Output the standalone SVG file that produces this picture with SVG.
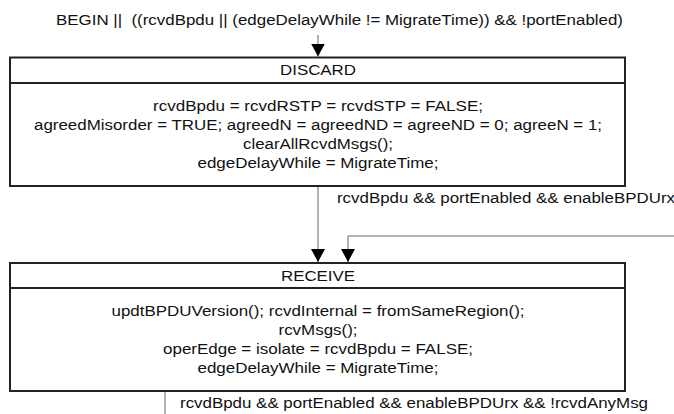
<svg xmlns="http://www.w3.org/2000/svg" width="674" height="414" viewBox="0 0 674 414">
<style>
text{font-family:"Liberation Sans",Arial,sans-serif;font-size:14px;fill:#111}
.c{text-anchor:middle}
.box{fill:#fff;stroke:#222;stroke-width:2}
.conn{fill:none;stroke:#666;stroke-width:1}
</style>
<defs>
<marker id="ah" markerWidth="13" markerHeight="14" refX="13" refY="7" orient="auto" markerUnits="userSpaceOnUse">
<path d="M0,0 L13,7 L0,14 Z" fill="#000"/>
</marker>
</defs>
<rect width="674" height="414" fill="#fff"/>
<g id="connectors">
<line class="conn" x1="318" y1="35" x2="318" y2="56.5" marker-end="url(#ah)"/>
<line class="conn" x1="318" y1="187" x2="318" y2="262" marker-end="url(#ah)"/>
<polyline class="conn" points="674,236 348,236 348,262" marker-end="url(#ah)"/>
<line class="conn" x1="165" y1="392" x2="165" y2="414"/>
<text x="56" y="25" textLength="567" lengthAdjust="spacingAndGlyphs" xml:space="preserve">BEGIN ||  ((rcvdBpdu || (edgeDelayWhile != MigrateTime)) &amp;&amp; !portEnabled)</text>
<text x="337" y="203" textLength="338" lengthAdjust="spacingAndGlyphs">rcvdBpdu &amp;&amp; portEnabled &amp;&amp; enableBPDUrx</text>
<text x="180" y="408" textLength="468" lengthAdjust="spacingAndGlyphs">rcvdBpdu &amp;&amp; portEnabled &amp;&amp; enableBPDUrx &amp;&amp; !rcvdAnyMsg</text>
</g>
<g id="discard">
<rect class="box" x="10" y="57.5" width="615" height="128.5"/>
<line class="box" x1="10" y1="83" x2="625" y2="83"/>
<text x="318" y="75" class="c" textLength="76" lengthAdjust="spacingAndGlyphs">DISCARD</text>
<text x="318" y="111" class="c" textLength="330" lengthAdjust="spacingAndGlyphs">rcvdBpdu = rcvdRSTP = rcvdSTP = FALSE;</text>
<text x="318" y="130" class="c" textLength="568" lengthAdjust="spacingAndGlyphs">agreedMisorder = TRUE; agreedN = agreedND = agreeND = 0; agreeN = 1;</text>
<text x="318" y="149" class="c" textLength="150" lengthAdjust="spacingAndGlyphs">clearAllRcvdMsgs();</text>
<text x="318" y="168" class="c" textLength="241" lengthAdjust="spacingAndGlyphs">edgeDelayWhile = MigrateTime;</text>
</g>
<g id="receive">
<rect class="box" x="10" y="263" width="615" height="128"/>
<line class="box" x1="10" y1="288" x2="625" y2="288"/>
<text x="318" y="280.5" class="c" textLength="74" lengthAdjust="spacingAndGlyphs">RECEIVE</text>
<text x="318" y="316" class="c" textLength="413" lengthAdjust="spacingAndGlyphs">updtBPDUVersion(); rcvdInternal = fromSameRegion();</text>
<text x="318" y="335" class="c" textLength="79" lengthAdjust="spacingAndGlyphs">rcvMsgs();</text>
<text x="318" y="354" class="c" textLength="310" lengthAdjust="spacingAndGlyphs">operEdge = isolate = rcvdBpdu = FALSE;</text>
<text x="318" y="373" class="c" textLength="241" lengthAdjust="spacingAndGlyphs">edgeDelayWhile = MigrateTime;</text>
</g>
</svg>
